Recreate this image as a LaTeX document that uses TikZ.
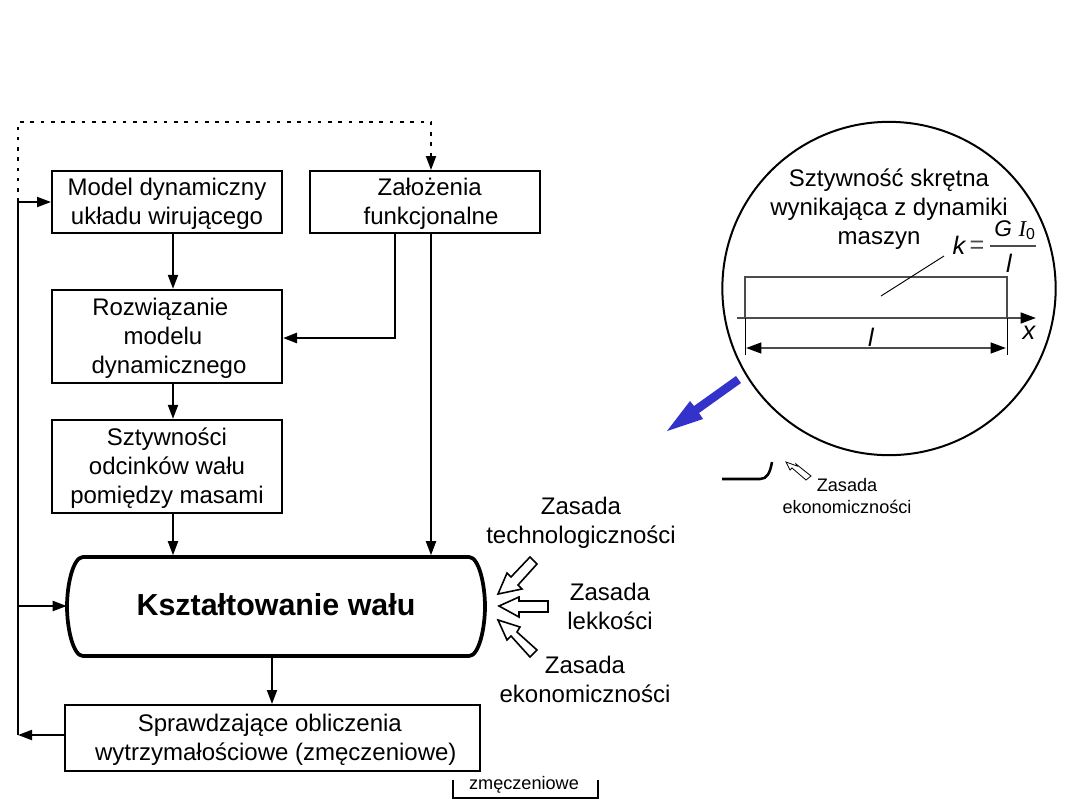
\documentclass[tikz,border=0pt]{standalone}
\usepackage{fontspec}
\setmainfont{Liberation Sans}
\usetikzlibrary{arrows.meta,calc}
\definecolor{pointerblue}{RGB}{51,51,204}
% taller first line: sets the text of a box slightly below its centre
\newcommand{\firstln}{\rule{0pt}{15.5pt}}
\tikzset{
  x=0.75pt,y=-0.75pt,
  flow/.style={line width=1.5pt,-{Triangle[length=10.5pt,width=7.5pt]}},
  plainline/.style={line width=1.5pt},
  box/.style={draw,line width=1.5pt,inner sep=0pt,align=center,font=\fontsize{18}{21.75}\selectfont},
  caption/.style={inner sep=0pt,align=center,font=\fontsize{18}{21.75}\selectfont},
  smallcaption/.style={inner sep=0pt,align=center,font=\fontsize{13.6}{16}\selectfont},
  hollow/.style={draw,line width=1.2pt,fill=white,line join=miter},
  gray line/.style={draw=black!70,line width=1.7pt},
  mathlabel/.style={inner sep=0pt,font=\fontsize{19}{20}\selectfont\itshape},
}
\begin{document}
\begin{tikzpicture}
\useasboundingbox (0,0) rectangle (1080,810);

% main flow boxes
\node[box,minimum width=172.5pt,minimum height=46.5pt] (model) at (167,202) {\firstln Model dynamiczny\\układu wirującego};
\node[box,minimum width=172.5pt,minimum height=46.5pt] (zal) at (425,202) {\firstln\hspace*{7pt}Założenia\\\hspace*{9pt}funkcjonalne};
\node[box,minimum width=172.5pt,minimum height=70pt] (rozw) at (167,336.5) {\firstln\hspace*{-10pt}Rozwiązanie\\\hspace*{-6pt}modelu\\\hspace*{3pt}dynamicznego};
\node[box,minimum width=172.5pt,minimum height=70pt] (szt) at (167,466.5) {\firstln Sztywności\\odcinków wału\\pomiędzy masami};
\node[box,minimum width=311pt,minimum height=49.5pt] (spr) at (272.5,738) {\firstln\hspace*{-4pt}Sprawdzające obliczenia\\\hspace*{5pt}wytrzymałościowe (zmęczeniowe)};

% barrel-shaped central block
\node[inner sep=0pt,minimum width=313.5pt,minimum height=74.25pt,font=\fontsize{22.8}{26}\selectfont\bfseries] (ksz) at (276,605) {Kształtowanie wału};
\draw[line width=2.8pt,line join=round]
  (83,557) -- (469,557)
  .. controls (479,557) and (485,585) .. (485,606.5)
  .. controls (485,628) and (479,656) .. (469,656)
  -- (83,656)
  .. controls (73,656) and (67,628) .. (67,606.5)
  .. controls (67,585) and (73,557) .. (83,557) -- cycle;

% guide coordinates for the connectors
\coordinate (railL) at (18,0);
\coordinate (railM) at (173,0);
\coordinate (railB) at (272,0);
\coordinate (railZ) at (395,0);
\coordinate (railK) at (431,0);
\coordinate (levTop) at (0,122);
\coordinate (levModel) at (0,202);
\coordinate (levRozw) at (0,338);
\coordinate (levBack) at (0,735);
\coordinate (levKsz) at (0,606);

\draw[flow] (model.south -| railM) -- (rozw.north -| railM);
\draw[flow] (rozw.south -| railM) -- (szt.north -| railM);
\draw[flow] (szt.south -| railM) -- (ksz.north -| railM);
\draw[flow] (ksz.south -| railB) -- (spr.north -| railB);
\draw[flow,line width=2pt] (zal.south -| railZ) |- (rozw.east |- levRozw);
\draw[flow] (zal.south -| railK) -- (ksz.north -| railK);
\draw[flow] (spr.west |- levBack) -- (railL |- levBack);
\draw[plainline] (railL |- levModel) -- (railL |- levBack);
\draw[flow] (railL |- levModel) -- (model.west |- levModel);
\draw[flow] (railL |- levKsz) -- (ksz.west |- levKsz);
\draw[line width=1.5pt,dash pattern=on 2.7pt off 5pt,-{Triangle[length=10.5pt,width=7.5pt]}]
  (railL |- levModel) -- (railL |- levTop) -- (railK |- levTop) -- (zal.north -| railK);

% design principles around the block
\node[caption] (tech) at (581,522.5) {Zasada\\technologiczności};
\node[caption] (lek) at (610,606) {Zasada\\lekkości};
\node[caption] (eko) at (585,679) {Zasada\\ekonomiczności};

\draw[hollow] (499,606) -- (519,597) -- (519,601) -- (548,601) -- (548,612) -- (519,612) -- (519,617) -- cycle;
\draw[hollow] (498,594) -- (507,573) -- (511,577) -- (530,557) -- (537,564) -- (518,585) -- (522,589) -- cycle;
\draw[hollow] (498,620) -- (520,627) -- (517,632) -- (537,650) -- (530,657) -- (511,636) -- (507,640) -- cycle;

% stiffness detail in the circle
\node[draw,circle,line width=1.5pt,minimum size=250pt,inner sep=0pt] (circ) at (889,288.5) {};
\node[caption] (stif) at (889,209) {Sztywność skrętna\\wynikająca z dynamiki\\\hspace*{-15pt}maszyn};
\node[mathlabel] (kl) at (959,245) {k};
\node[inner sep=0pt,font=\fontsize{19}{20}\selectfont,text=black!70] (eq) at (977,247) {=};
\node[inner sep=0pt,font=\fontsize{17}{20}\selectfont\itshape] (num) at (1015,230) {G\hspace{5pt}{\fontspec{Liberation Serif}I}\textsubscript{\upshape 0}};
\node[mathlabel] (den) at (1009,263) {l};
\coordinate (fracL) at (990,246);
\coordinate (fracR) at (1036,246);
\draw[gray line,line width=1.5pt] (fracL) -- (fracR);

\coordinate (shaftTL) at (745,277);
\coordinate (shaftTR) at (1007,277);
\coordinate (shaftBL) at (745,318);
\coordinate (shaftBR) at (1007,318);
\draw[gray line] (shaftBL) -- (shaftTL) -- (shaftTR) -- (shaftBR);

\coordinate (axisS) at (737,318);
\coordinate (axisE) at (1036,318);
\draw[gray line,-{Triangle[length=11.5pt,width=8pt,color=black]}] (axisS) -- (axisE);
\node[mathlabel] (xl) at (1029,333) {x};

\coordinate (extLB) at (745,355);
\coordinate (extRB) at (1007,355);
\draw[line width=0.7pt] (shaftBL) -- (extLB);
\draw[line width=0.7pt] (shaftBR) -- (extRB);
\coordinate (dimL) at (746,348);
\coordinate (dimR) at (1006,348);
\draw[gray line,{Triangle[length=11.5pt,width=8pt,color=black]}-{Triangle[length=11.5pt,width=8pt,color=black]}] (dimL) -- (dimR);
\node[mathlabel] (ll) at (871,337) {l};

\coordinate (leadA) at (881,296);
\coordinate (leadB) at (944,256);
\draw[line width=0.7pt] (leadA) -- (leadB);

% blue pointer leaving the circle
\draw[draw=none,fill=pointerblue] (736,376) -- (741,383) -- (699,413) -- (703,419) -- (667,431) -- (690,401) -- (694,406) -- cycle;

% partial shapes below the circle
\coordinate (tailA) at (722,479);
\coordinate (tailB) at (772,462);
\draw[line width=1.9pt] (tailA) -- (760,479) .. controls (767,479) and (770,473) .. (tailB);
\draw[line width=0.6pt] (786,462) -- (797,466) -- (796,464) -- (811,476) -- (806,480) -- (792,468) -- (790,470) -- cycle;
\node[smallcaption] (eko2) at (847,496) {Zasada\\ekonomiczności};
\node[smallcaption] (zm) at (524,785) {zmęczeniowe};
\coordinate (brL) at (453,780);
\coordinate (brR) at (598,780);
\draw[line width=1pt] (brL) -- (453,798) -- (598,798) -- (brR);
\end{tikzpicture}
\end{document}
